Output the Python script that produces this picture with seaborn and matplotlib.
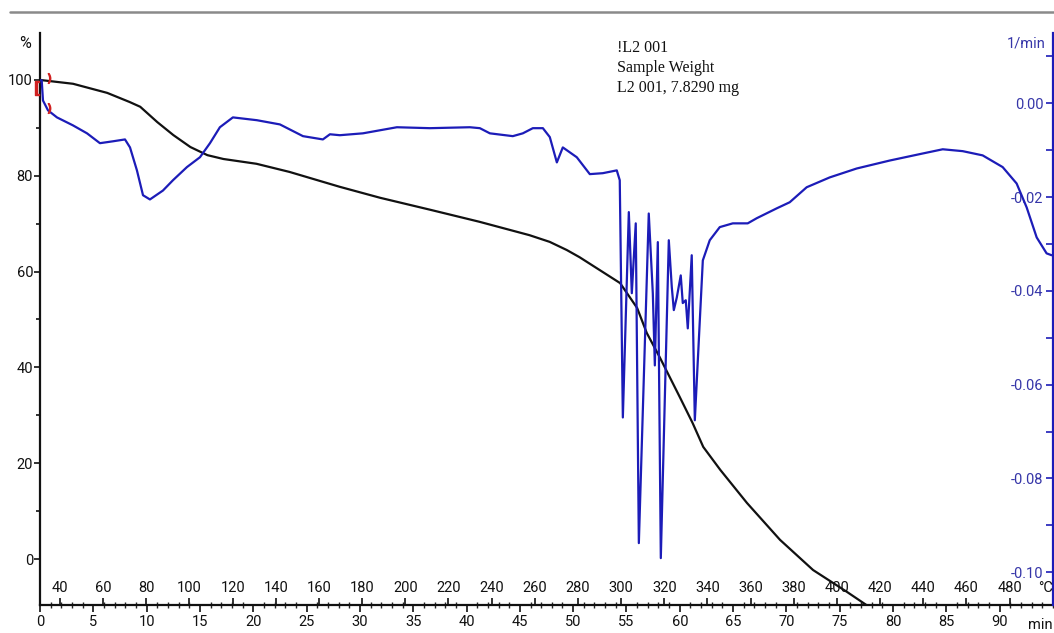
import seaborn as sns
import matplotlib.pyplot as plt
from matplotlib.lines import Line2D
from matplotlib.ticker import MultipleLocator

# TG curve: sample weight in % against time in min
tg_time = [0, 3.1, 6.3, 8.4, 9.4, 11.0, 12.5, 14.1, 15.7, 17.2, 20.3, 23.4, 28.1,
           31.9, 36.6, 41.2, 45.9, 47.8, 49.4, 50.6, 52.5, 54.4, 56.0, 56.9, 58.1,
           60.0, 61.2, 62.2, 63.8, 66.3, 69.4, 72.5, 75.7, 77.5, 79.0]
tg_weight = [100, 99.2, 97.3, 95.4, 94.4, 91.2, 88.5, 86.0, 84.3, 83.5, 82.5, 80.8, 77.7,
             75.4, 72.9, 70.4, 67.6, 66.2, 64.5, 63.0, 60.3, 57.6, 52.4, 47.2, 42.2,
             33.8, 28.4, 23.4, 18.6, 11.7, 4.0, -2.3, -6.9, -9.6, -12.0]

# DTG curve: weight change rate in 1/min against time in min
dtg_time = [0, 0.16, 0.28, 0.75, 1.59, 3.09, 4.41, 5.62, 6.84, 7.97, 8.44, 9.09, 9.66,
            10.31, 11.53, 12.47, 13.78, 15.0, 15.94, 16.87, 18.09, 20.34, 22.5, 24.66,
            26.53, 27.19, 28.12, 30.28, 33.47, 36.56, 40.31, 41.25, 42.19, 44.34, 45.28,
            46.22, 47.16, 47.81, 48.47, 49.03, 50.34, 51.56, 52.78, 54.09, 54.37, 54.66,
            55.22, 55.5, 55.87, 56.16, 57.09, 57.47, 57.66, 57.94, 58.22, 58.97, 59.25,
            59.44, 59.72, 60.09, 60.28, 60.56, 60.75, 61.12, 61.41, 62.16, 62.81, 63.75,
            64.97, 66.37, 67.22, 69.09, 70.31, 71.9, 74.06, 76.59, 79.69, 82.78, 84.66,
            86.53, 88.4, 90.28, 91.59, 92.53, 93.47, 94.4, 94.87]
dtg_rate = [0.0049, 0.0049, 0.0006, -0.0015, -0.0030, -0.0047, -0.0064, -0.0085, -0.0081,
            -0.0077, -0.0094, -0.0143, -0.0196, -0.0205, -0.0186, -0.0164, -0.0136, -0.0115,
            -0.0085, -0.0051, -0.0030, -0.0036, -0.0045, -0.0070, -0.0077, -0.0066, -0.0068,
            -0.0064, -0.0051, -0.0053, -0.0051, -0.0053, -0.0064, -0.0070, -0.0064, -0.0053,
            -0.0053, -0.0072, -0.0126, -0.0094, -0.0115, -0.0151, -0.0149, -0.0143, -0.0164,
            -0.0670, -0.0232, -0.0405, -0.0256, -0.0938, -0.0235, -0.0405, -0.0559, -0.0296,
            -0.0970, -0.0292, -0.0392, -0.0441, -0.0414, -0.0367, -0.0426, -0.0420, -0.0480,
            -0.0324, -0.0676, -0.0335, -0.0292, -0.0264, -0.0256, -0.0256, -0.0245, -0.0224,
            -0.0211, -0.0179, -0.0158, -0.0139, -0.0122, -0.0107, -0.0098, -0.0102, -0.0111,
            -0.0136, -0.0171, -0.0222, -0.0286, -0.0320, -0.0324]

# step marks at the start of the run
mark_time = [0.85]
mark_weight = [100.4]
mark_rate = [-0.0009]
start_time = [-0.25]
start_weight = [98.3]

# temperature programme of the run
t_start = 30.74
heat_rate = 4.941

temp_ticks = list(range(40, 500, 20))
note = "!L2 001\nSample Weight\nL2 001, 7.8290 mg"

sns.set_style("white")
plt.rcParams['font.family'] = ['Roboto', 'DejaVu Sans']

blue = '#1c1cb8'
lblue = '#3535a8'
fs = 10.5

fig = plt.figure(figsize=(10.54, 6.33), dpi=100)
ax = fig.add_axes([40 / 1054, 28 / 633, 1013 / 1054, 572 / 633])
ax2 = ax.twinx()

sns.lineplot(x=tg_time, y=tg_weight, ax=ax, color='#111111', lw=1.6, estimator=None, sort=False)
sns.lineplot(x=dtg_time, y=dtg_rate, ax=ax2, color=blue, lw=1.6, estimator=None, sort=False)

# red step marks
ax2.plot(mark_time, mark_rate, ls='none', marker='$)$', color='#d02020', ms=7)
ax.plot(mark_time, mark_weight, ls='none', marker='$)$', color='#d02020', ms=7)
ax.plot(start_time, start_weight, ls='none', marker='$[$', color='#d02020', ms=10,
        clip_on=False, zorder=10)

ax.set_xlim(0, 95)
ax.set_ylim(-9.6, 109.8)
ax2.set_ylim(-0.107, 0.015)

for a in (ax, ax2):
    a.set_facecolor('none')
    for s in a.spines.values():
        s.set_visible(False)

ax.spines['left'].set_visible(True)
ax.spines['left'].set_color('#111111')
ax.spines['left'].set_linewidth(1.6)
ax.spines['bottom'].set_visible(True)
ax.spines['bottom'].set_color('#111111')
ax.spines['bottom'].set_linewidth(1.6)
ax2.spines['right'].set_visible(True)
ax2.spines['right'].set_color(blue)
ax2.spines['right'].set_linewidth(1.6)

# left axis (%)
ax.yaxis.set_major_locator(MultipleLocator(20))
ax.yaxis.set_minor_locator(MultipleLocator(10))
ax.tick_params(axis='y', which='both', left=True, direction='out', length=4, width=1.2,
               pad=1, labelsize=fs, colors='#111111')
ax.tick_params(axis='y', which='minor', length=3)

# time axis (min), below the line
ax.xaxis.set_minor_locator(MultipleLocator(1))
ax.tick_params(axis='x', which='major', bottom=True, direction='out', length=5, width=1.2,
               pad=2, labelsize=fs, colors='#111111')
ax.tick_params(axis='x', which='minor', bottom=True, direction='inout', length=4, width=1.0)
ax.set_xticks(range(0, 95, 5))

# temperature axis, above the same line
sec = ax.secondary_xaxis(0, functions=(lambda t: t_start + heat_rate * t,
                                       lambda T: (T - t_start) / heat_rate))
sec.set_alignment('top')
sec.spines['top'].set_visible(False)
sec.spines['bottom'].set_visible(False)
sec.set_xticks(temp_ticks)
sec.tick_params(axis='x', which='major', direction='out', length=5, width=1.2, pad=2,
                labelsize=fs, colors='#111111')

# right axis (1/min), labels inside
ax2.yaxis.set_minor_locator(MultipleLocator(0.01))
ax2.set_yticks([0.0, -0.02, -0.04, -0.06, -0.08, -0.10])
ax2.set_yticklabels(['0.00', '-0.02', '-0.04', '-0.06', '-0.08', '-0.10'])
ax2.tick_params(axis='y', which='both', right=True, direction='in', length=5, width=1.2,
                pad=-7, labelsize=fs, colors=blue, labelcolor=lblue)
for lab in ax2.get_yticklabels():
    lab.set_horizontalalignment('right')

# unit labels
fig.text(25 / 1054, 1 - 43 / 633, '%', ha='center', va='center', fontsize=fs + 1, color='#111111')
fig.text(1046 / 1054, 1 - 43 / 633, '1/min', ha='right', va='center', fontsize=fs, color=lblue)
fig.text(1053 / 1054, 1 - 588 / 633, '°C', ha='right', va='center', fontsize=fs, color='#111111')
fig.text(1053 / 1054, 1 - 625 / 633, 'min', ha='right', va='center', fontsize=fs, color='#111111')

fig.text(617 / 1054, 1 - 40 / 633, note, ha='left', va='top', fontsize=11.5,
         family='Liberation Serif', linespacing=1.35, color='#111111')

# grey rule along the top
fig.add_artist(Line2D([10 / 1054, 1], [1 - 12 / 633, 1 - 12 / 633], color='#8a8a8a', lw=1.8))

ax.set_xlabel('')
ax.set_ylabel('')
ax2.set_ylabel('')

fig.savefig('out.png', dpi=100)
